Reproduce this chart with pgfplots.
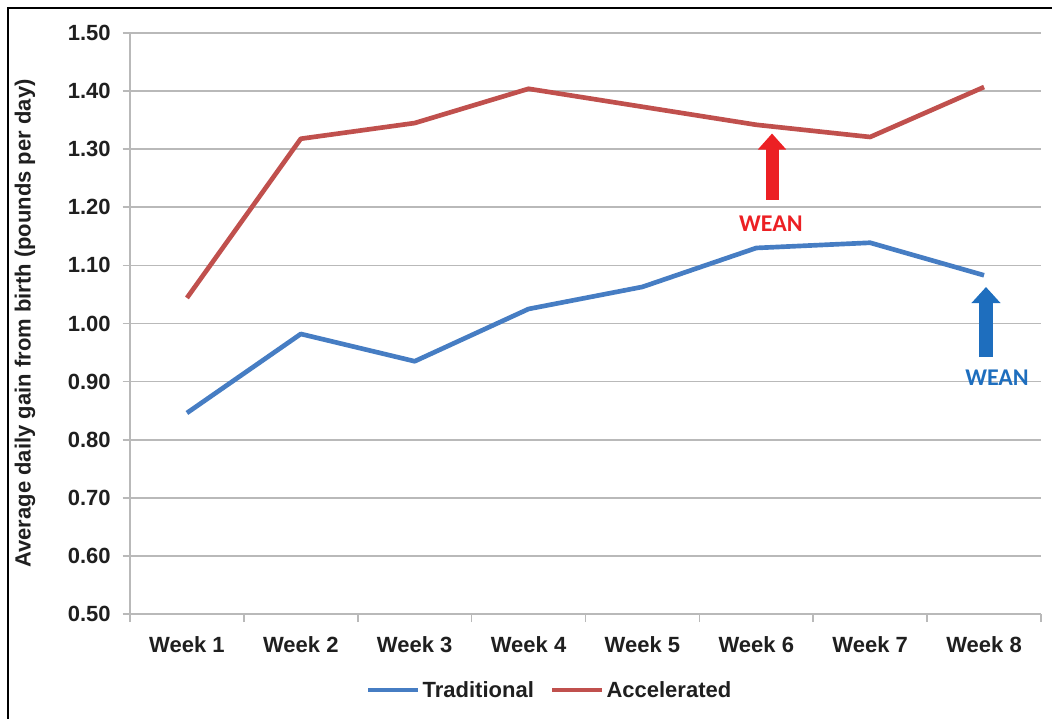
\documentclass[border=0pt]{standalone}
\usepackage{fontspec}
\setmainfont{Liberation Sans}
\newfontfamily\calfont{Carlito}
\usepackage{pgfplots}
\pgfplotsset{compat=1.18}
\usetikzlibrary{arrows.meta}
\definecolor{tradblue}{RGB}{70,125,195}
\definecolor{accred}{RGB}{192,80,77}
\definecolor{arrred}{RGB}{236,32,36}
\definecolor{arrblue}{RGB}{30,110,190}
\definecolor{gridgray}{RGB}{185,185,185}
\begin{document}
\begin{tikzpicture}
\useasboundingbox (-97.5pt,-78pt) rectangle (691.5pt,460.5pt);
\draw[line width=2.2pt, black] (-91.5pt,-80pt) -- (-91.5pt,454.5pt) -- (695pt,454.5pt);
\begin{axis}[
  at={(0,0)}, anchor=south west,
  scale only axis, width=683.25pt, height=435.75pt,
  xmin=0.5, xmax=8.5, ymin=0.5, ymax=1.5,
  axis x line*=bottom, axis y line*=left,
  axis line style={gridgray, line width=1.3pt, -},
  xtick={1,...,8},
  xticklabels={Week 1,Week 2,Week 3,Week 4,Week 5,Week 6,Week 7,Week 8},
  minor xtick={0.5,1.5,...,8.5},
  major x tick style={draw=none},
  minor x tick style={gridgray, line width=1.3pt},
  minor tick length=6pt,
  ytick={0.5,0.6,...,1.51},
  y tick style={gridgray, line width=1.3pt},
  major tick length=5.5pt,
  tick align=outside,
  ymajorgrids,
  grid style={gridgray, line width=1.3pt},
  /pgf/number format/assume math mode=true,
  yticklabel style={/pgf/number format/.cd, fixed, fixed zerofill, precision=2, /tikz/.cd,
    font=\bfseries\fontsize{16.5}{19}\selectfont, text=black!88, xshift=-5.5pt},
  xticklabel style={font=\bfseries\fontsize{16.5}{19}\selectfont, text=black!88, yshift=-8pt},
  ylabel={Average daily gain from birth (pounds per day)},
  ylabel style={at={(axis description cs:-0.1153,0.5)}, anchor=center,
    font=\bfseries\fontsize{16.5}{18}\selectfont, text=black!88},
  legend style={at={(0.461,-0.131)}, anchor=center, draw=none, fill=none,
    legend columns=2, font=\bfseries\fontsize{16.5}{19}\selectfont, text=black!88,
    /tikz/every even column/.style={column sep=10pt}},
  legend image code/.code={\draw[#1, line width=3.5pt] (0pt,0pt) -- (37pt,0pt);},
  clip=false,
]
\addplot[tradblue, line width=3.5pt, line join=round] coordinates {
  (1,0.846) (2,0.982) (3,0.935) (4,1.025) (5,1.063) (6,1.130) (7,1.139) (8,1.083)};
\addlegendentry{Traditional}
\addplot[accred, line width=3.5pt, line join=round] coordinates {
  (1,1.044) (2,1.318) (3,1.345) (4,1.404) (5,1.373) (6,1.342) (7,1.321) (8,1.407)};
\addlegendentry{Accelerated}
\draw[arrred, line width=9.75pt, -{Triangle[width=20.5pt,length=12pt]}] (axis cs:6.138,1.2126) -- (axis cs:6.138,1.327);
\node[text=arrred, font=\calfont\bfseries\fontsize{18}{20}\selectfont] at (axis cs:6.128,1.171) {WEAN};
\draw[arrblue, line width=10pt, -{Triangle[width=21pt,length=12pt]}] (axis cs:8.017,0.9423) -- (axis cs:8.017,1.0628);
\node[text=arrblue, font=\calfont\bfseries\fontsize{18}{20}\selectfont] at (axis cs:8.114,0.906) {WEAN};
\end{axis}
\end{tikzpicture}
\end{document}
